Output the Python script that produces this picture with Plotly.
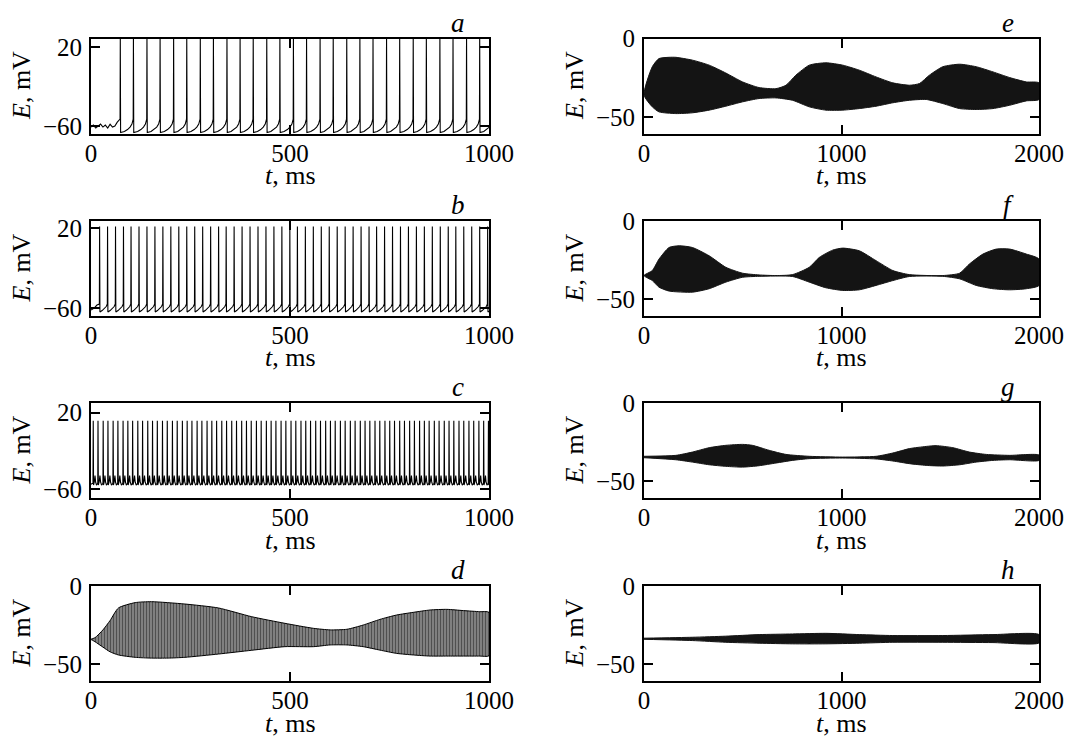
import plotly.graph_objects as go

W, H = 1081, 738
OFF = 8  # default page margin of the html body
FW, FH = W - OFF, H - OFF
FONT = "Liberation Serif, Times New Roman, serif"

# ---------------- data ----------------
# panel a: spike train (times of spikes, ms)
a_pre_t = [0, 6, 12, 18, 24, 30, 36, 42, 48, 54, 60, 66]
a_pre_v = [-61, -59, -62, -60, -58, -61, -59, -62, -58, -61, -60, -56]
a_spikes = [73, 106, 140, 173, 207, 240, 274, 307, 341, 374, 407, 441, 474, 508,
            541, 575, 608, 642, 675, 708, 742, 775, 809, 842, 876, 909, 943, 976]
a_shape = {"threshold": -53, "peak": 32, "trough": -66.5}
a_rec_frac = [0.0, 0.3, 0.55, 0.75, 0.9, 1.0]
a_rec_v = [-66.5, -65.5, -63.5, -61, -58, -53]

# panel b
b_pre_t = [0, 8, 15]
b_pre_v = [-62, -60, -57]
b_spikes = [21, 41, 61, 81, 100, 120, 140, 160, 180, 200, 220, 240, 260, 280, 300,
            320, 339, 359, 379, 399, 419, 439, 459, 479, 499, 518, 538, 558, 578,
            598, 618, 638, 658, 678, 698, 717, 737, 757, 777, 797, 817, 837, 857,
            877, 897, 916, 936, 956, 976, 996]
b_shape = {"threshold": -56, "peak": 22, "trough": -64}
b_rec_frac = [0.0, 0.3, 0.6, 0.85, 1.0]
b_rec_v = [-64, -62.5, -60.5, -58.5, -56]

# panel c
c_pre_t = [0, 3]
c_pre_v = [-55, -54]
c_spikes = [5, 17, 30, 42, 55, 67, 80, 92, 104, 117, 129, 142, 154, 166, 179, 191,
            204, 216, 229, 241, 253, 266, 278, 291, 303, 315, 328, 340, 353, 365,
            378, 390, 402, 415, 427, 440, 452, 464, 477, 489, 502, 514, 527, 539,
            551, 564, 576, 589, 601, 613, 626, 638, 651, 663, 676, 688, 700, 713,
            725, 738, 750, 762, 775, 787, 800, 812, 825, 837, 849, 862, 874, 887,
            899, 911, 924, 936, 949, 961, 974, 986, 998]
c_shape = {"threshold": -54, "peak": 11.5, "trough": -56}
c_rec_frac = [0.0, 0.2, 0.35, 0.5, 0.7, 1.0]
c_rec_v = [-56, -52, -46, -53, -56, -54]

# panel d: envelope of fast oscillations
d_up_t = [0, 10, 30, 48, 69, 111, 152, 236, 320, 404, 487, 559, 601, 643, 684,
          726, 768, 810, 852, 894, 936, 977, 1000]
d_up_v = [-34, -33, -28, -22, -14, -10.6, -10, -11.5, -14, -19.6, -23.8, -27, -28,
          -27.6, -24.9, -21.3, -18.5, -16.8, -15.3, -14.9, -15.7, -16.4, -16.8]
d_lo_t = [0, 10, 30, 48, 69, 111, 152, 194, 236, 320, 404, 487, 559, 601, 643,
          684, 726, 768, 810, 852, 894, 936, 977, 1000]
d_lo_v = [-34, -35.5, -39, -42, -44, -45.5, -46, -46, -45.5, -43.4, -41, -38.7,
          -38.7, -37.6, -37.6, -38.7, -40.9, -43, -44, -44.7, -44.7, -44.7, -44.7, -44.5]

# panel e
e_up_t = [0, 42, 76, 127, 161, 245, 330, 414, 499, 583, 668, 719, 769, 837, 921,
          1006, 1090, 1175, 1260, 1344, 1395, 1445, 1513, 1598, 1682, 1767, 1851,
          1936, 2000]
e_up_v = [-36, -18, -12.8, -12, -12, -13.8, -17, -22, -27.7, -31.3, -32, -29.8,
          -23.4, -17, -15.5, -17, -20.2, -24.5, -28.3, -29.8, -28.7, -23.4, -18,
          -16.4, -18, -21.3, -24.9, -27.7, -28.3]
e_lo_t = [0, 42, 76, 161, 245, 330, 414, 499, 583, 668, 752, 837, 921, 1006, 1090,
          1175, 1260, 1344, 1429, 1513, 1598, 1682, 1767, 1851, 1936, 2000]
e_lo_v = [-36, -43.6, -46.8, -47.9, -47.4, -45.7, -43.2, -40.4, -38.3, -37.9, -39.4,
          -43.6, -45.7, -45.7, -44.7, -43.2, -41, -39.4, -38.9, -41.5, -44.7, -45.3,
          -44.7, -42.6, -39.8, -38.9]

# panel f
f_up_t = [0, 42, 76, 127, 178, 245, 330, 414, 499, 583, 668, 752, 837, 888, 955,
          1006, 1090, 1175, 1260, 1344, 1513, 1598, 1648, 1716, 1784, 1851, 1936, 2000]
f_up_v = [-34.8, -31.6, -24.3, -16.9, -15.8, -16.9, -22.2, -29.5, -33.3, -34.4,
          -34.8, -34.2, -29.5, -23.2, -18.6, -17.3, -19, -25.3, -31.6, -34.2, -34.8,
          -33.3, -27.4, -21.1, -17.9, -17.9, -21.1, -24.3]
f_lo_t = [0, 42, 76, 127, 245, 330, 414, 499, 583, 752, 837, 921, 1006, 1090, 1175,
          1260, 1344, 1513, 1598, 1682, 1767, 1851, 1936, 2000]
f_lo_v = [-34.8, -38, -42.2, -44.7, -45.4, -43.2, -39, -35.9, -35.3, -35.4, -39,
          -42.6, -44.3, -43.9, -41.1, -38, -35.4, -35.3, -36.9, -41.1, -43.2, -43.9,
          -43.2, -41.1]

# panel g
g_up_t = [0, 161, 245, 330, 414, 499, 549, 634, 719, 837, 1006, 1175, 1260, 1344,
          1429, 1479, 1564, 1648, 1733, 1851, 2000]
g_up_v = [-34, -33.4, -31.3, -28.5, -27, -26.4, -27, -30.2, -32.8, -34, -34.5, -34,
          -31.9, -29.1, -27.7, -27.2, -28.5, -31.3, -32.8, -33.4, -33.2]
g_lo_t = [0, 161, 245, 330, 414, 499, 583, 668, 752, 837, 1006, 1175, 1260, 1344,
          1429, 1513, 1598, 1682, 1767, 1851, 2000]
g_lo_v = [-34.9, -36.2, -37.7, -39.4, -40.4, -40.9, -40, -38.3, -36.6, -35.5, -35.1,
          -35.7, -37, -38.7, -39.8, -40.2, -39.4, -37.7, -36.6, -36.2, -36.6]

# panel h
h_t = [0, 245, 414, 583, 752, 921, 1090, 1260, 1513, 1767, 2000]
h_up_v = [-33.3, -32.7, -32, -31, -30.6, -30.2, -31, -31.6, -31.6, -31, -31]
h_lo_v = [-34, -34.8, -35.9, -36.5, -36.9, -36.9, -36.5, -35.9, -35.9, -36.1, -36.3]

panel_letters = ["a", "b", "c", "d", "e", "f", "g", "h"]
left_xticks = [0, 500, 1000]
right_xticks = [0, 1000, 2000]
spike_yticks = [-60, 20]
env_yticks = [-50, 0]


def fmt(v):
    return ("\u2212" + str(abs(v))) if v < 0 else str(v)


def spike_trace(pre_t, pre_v, times, shape, rec_frac, rec_v):
    xs, ys = list(pre_t), list(pre_v)
    for i, ts in enumerate(times):
        tn = times[i + 1] if i + 1 < len(times) else ts + (times[-1] - times[-2])
        xs += [ts, ts + 0.6, ts + 1.4]
        ys += [shape["threshold"], shape["peak"], shape["trough"]]
        span = tn - (ts + 1.4)
        for fr, v in zip(rec_frac[1:-1], rec_v[1:-1]):
            xs.append(ts + 1.4 + fr * span)
            ys.append(v)
    return xs, ys


def env_trace(up_t, up_v, lo_t, lo_v):
    xs = list(up_t) + list(lo_t)[::-1]
    ys = list(up_v) + list(lo_v)[::-1]
    return xs, ys


def px(xp):
    return (xp - OFF) / FW


def py(yp):
    return 1 - (yp - OFF) / FH


# ---------------- layout geometry (window pixels) ----------------
col_x = [(91, 489), (644, 1039)]
row_top = [38.5, 221, 403, 586]
box_h = 95

fig = go.Figure()
annotations = []

panels = []
panels.append((0, 0, "spike", spike_trace(a_pre_t, a_pre_v, a_spikes, a_shape, a_rec_frac, a_rec_v), left_xticks, spike_yticks, [-67.5, 28.5], [0, 1000]))
panels.append((0, 1, "spike", spike_trace(b_pre_t, b_pre_v, b_spikes, b_shape, b_rec_frac, b_rec_v), left_xticks, spike_yticks, [-68, 27.5], [0, 1000]))
panels.append((0, 2, "spike", spike_trace(c_pre_t, c_pre_v, c_spikes, c_shape, c_rec_frac, c_rec_v), left_xticks, spike_yticks, [-69.5, 30], [0, 1000]))
panels.append((0, 3, "envd", env_trace(d_up_t, d_up_v, d_lo_t, d_lo_v), left_xticks, env_yticks, [-60.6, 0], [0, 1000]))
panels.append((1, 0, "env", env_trace(e_up_t, e_up_v, e_lo_t, e_lo_v), right_xticks, env_yticks, [-60.6, 0], [0, 2000]))
panels.append((1, 1, "env", env_trace(f_up_t, f_up_v, f_lo_t, f_lo_v), right_xticks, env_yticks, [-60.6, 0], [0, 2000]))
panels.append((1, 2, "env", env_trace(g_up_t, g_up_v, g_lo_t, g_lo_v), right_xticks, env_yticks, [-60.6, 0], [0, 2000]))
panels.append((1, 3, "env", env_trace(h_t, h_up_v, h_t, h_lo_v), right_xticks, env_yticks, [-60.6, 0], [0, 2000]))

for k, (col, row, kind, (xs, ys), xt, yt, yr, xr) in enumerate(panels):
    n = k + 1
    xa = "x" if n == 1 else f"x{n}"
    ya = "y" if n == 1 else f"y{n}"
    if kind == "spike":
        fig.add_trace(go.Scatter(x=xs, y=ys, mode="lines", xaxis=xa, yaxis=ya,
                                 line=dict(color="black", width=1.1), showlegend=False,
                                 hoverinfo="skip"))
    elif kind == "envd":
        fig.add_trace(go.Scatter(x=xs, y=ys, mode="lines", xaxis=xa, yaxis=ya,
                                 fill="toself", fillcolor="#909090",
                                 fillpattern=dict(shape="|", fgcolor="black", bgcolor="#a0a0a0",
                                                  size=3, solidity=0.6),
                                 line=dict(color="black", width=1, shape="spline", smoothing=0.6),
                                 showlegend=False, hoverinfo="skip"))
    else:
        fig.add_trace(go.Scatter(x=xs, y=ys, mode="lines", xaxis=xa, yaxis=ya,
                                 fill="toself", fillcolor="#141414",
                                 line=dict(color="#141414", width=1, shape="spline", smoothing=0.6),
                                 showlegend=False, hoverinfo="skip"))

    x0, x1 = col_x[col]
    top = row_top[row]
    bot = top + box_h
    axis_common = dict(showline=True, linecolor="black", linewidth=2, mirror="ticks",
                       ticks="inside", ticklen=9, tickwidth=1.5, tickcolor="black",
                       showgrid=False, zeroline=False, automargin=False,
                       tickfont=dict(family=FONT, size=25, color="black"))
    fig.layout[xa.replace("x", "xaxis")] = dict(
        domain=[px(x0), px(x1)], range=xr, anchor=ya,
        tickvals=xt, ticktext=[fmt(v) for v in xt], ticklabelstandoff=-4, **axis_common)
    fig.layout[ya.replace("y", "yaxis")] = dict(
        domain=[py(bot), py(top)], range=yr, anchor=xa,
        tickvals=yt, ticktext=[fmt(v) for v in yt], ticklabelstandoff=2, **axis_common)

    annotations.append(dict(text=f"<i>{panel_letters[k]}</i>", x=px(x1 - 31), y=py(top + 1),
                            xref="paper", yref="paper", xanchor="center", yanchor="bottom",
                            showarrow=False, font=dict(family=FONT, size=27, color="black")))
    annotations.append(dict(text="<i>t</i>, ms", x=px((x0 + x1) / 2), y=py(bot + 42),
                            xref="paper", yref="paper", xanchor="center", yanchor="middle",
                            showarrow=False, font=dict(family=FONT, size=26, color="black")))
    annotations.append(dict(text="<i>E</i>, mV", x=px(x0 - 70), y=py((top + bot) / 2),
                            xref="paper", yref="paper", xanchor="center", yanchor="middle",
                            textangle=-90, showarrow=False,
                            font=dict(family=FONT, size=26, color="black")))

fig.update_layout(width=FW, height=FH, autosize=False,
                  margin=dict(l=0, r=0, t=0, b=0, pad=0),
                  paper_bgcolor="white", plot_bgcolor="white",
                  annotations=annotations)

fig.write_html("out.html")
